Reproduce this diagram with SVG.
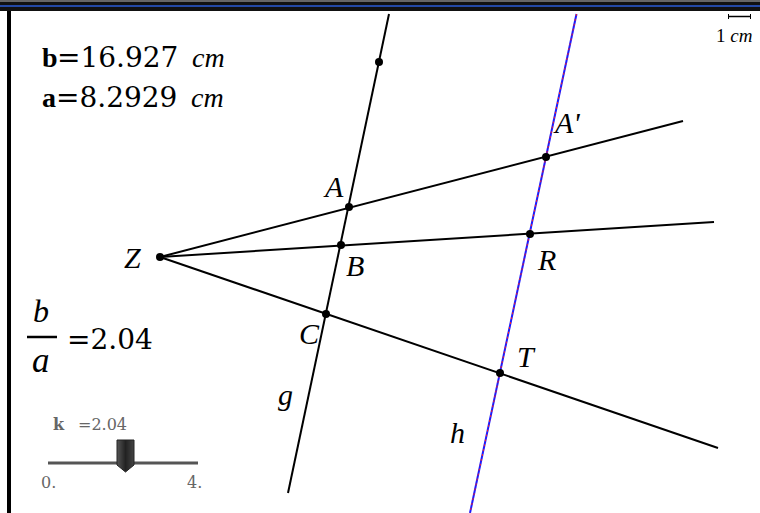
<svg xmlns="http://www.w3.org/2000/svg" width="760" height="513" viewBox="0 0 760 513">
<style>
.ln{stroke:#000;stroke-width:2;fill:none}
.pt{fill:#000}
.lbl{font-family:"Liberation Serif",serif;font-style:italic;font-size:30px;fill:#000}
.num{font-family:"DejaVu Serif",serif;fill:#000}
.gr{font-family:"DejaVu Serif",serif;fill:#666;font-size:16px}
</style>
<defs>
<linearGradient id="thumb" x1="0" y1="0" x2="1" y2="0">
<stop offset="0" stop-color="#555"/><stop offset="0.5" stop-color="#222"/><stop offset="1" stop-color="#444"/>
</linearGradient>
</defs>
<rect width="760" height="513" fill="#fff"/>
<g id="frame">
<rect x="0" y="0" width="760" height="11" fill="#111"/>
<rect x="0" y="0" width="760" height="2" fill="#666"/>
<line x1="0" y1="6" x2="760" y2="6" stroke="#2a5bd7" stroke-width="1.5"/>
<rect x="7" y="11" width="4" height="502" fill="#000"/>
</g>
<g id="connectors">
<line id="g-line" class="ln" x1="389" y1="14" x2="288" y2="493"/>
<line id="rayA" class="ln" x1="160" y1="257" x2="683" y2="121"/>
<line id="rayB" class="ln" x1="160" y1="257" x2="714" y2="222"/>
<line id="rayC" class="ln" x1="160" y1="257" x2="718" y2="448"/>
<line id="h-line" x1="576.5" y1="14" x2="470" y2="513" stroke="#1a1aff" stroke-width="2"/>
<line x1="576.5" y1="14" x2="470" y2="513" stroke="#ff2020" stroke-width="1" stroke-dasharray="2 3"/>
</g>
<g id="Z"><circle class="pt" cx="160" cy="257" r="4"/><text class="lbl" x="124" y="268">Z</text></g>
<g id="P"><circle class="pt" cx="379" cy="62" r="4"/></g>
<g id="A"><circle class="pt" cx="349" cy="207" r="4"/><text class="lbl" x="325" y="197">A</text></g>
<g id="B"><circle class="pt" cx="341" cy="245" r="4"/><text class="lbl" x="346" y="276">B</text></g>
<g id="C"><circle class="pt" cx="326" cy="314" r="4"/><text class="lbl" x="299" y="344">C</text></g>
<g id="A2"><circle class="pt" cx="546" cy="157" r="4"/><text class="lbl" x="555" y="133">A'</text></g>
<g id="R"><circle class="pt" cx="530" cy="234" r="4"/><text class="lbl" x="538" y="270">R</text></g>
<g id="T"><circle class="pt" cx="500" cy="373" r="4"/><text class="lbl" x="517" y="367">T</text></g>
<g id="glabel"><text class="lbl" x="278" y="405">g</text></g>
<g id="hlabel"><text class="lbl" x="450" y="443">h</text></g>
<g id="measures">
<text x="42" y="67" font-size="28"><tspan font-family="Liberation Serif,serif" font-weight="bold">b</tspan><tspan class="num" x="57">=16.927</tspan><tspan font-family="Liberation Serif,serif" font-style="italic" x="192">cm</tspan></text>
<text x="42" y="107" font-size="28"><tspan font-family="Liberation Serif,serif" font-weight="bold">a</tspan><tspan class="num" x="56">=8.2929</tspan><tspan font-family="Liberation Serif,serif" font-style="italic" x="191">cm</tspan></text>
</g>
<g id="ratio">
<text x="33" y="322" font-family="Liberation Serif,serif" font-style="italic" font-size="32">b</text>
<line x1="27" y1="337" x2="57" y2="337" stroke="#000" stroke-width="2.5"/>
<text x="32" y="372" font-family="Liberation Serif,serif" font-style="italic" font-size="35">a</text>
<text class="num" x="67" y="349" font-size="28">=2.04</text>
</g>
<g id="slider">
<text x="53" y="430" class="gr"><tspan font-weight="bold">k</tspan><tspan x="78">=2.04</tspan></text>
<line x1="48" y1="463" x2="198" y2="463" stroke="#555" stroke-width="3"/>
<path d="M117 440 H134 V465 L125.5 472 L117 465 Z" fill="url(#thumb)" stroke="#222" stroke-width="1"/>
<text x="41" y="488" class="gr">0.</text>
<text x="187" y="488" class="gr">4.</text>
</g>
<g id="scale">
<line x1="728" y1="16.5" x2="751" y2="16.5" stroke="#000" stroke-width="1.5"/>
<line x1="728.5" y1="14" x2="728.5" y2="19" stroke="#000" stroke-width="1"/>
<line x1="750.5" y1="14" x2="750.5" y2="19" stroke="#000" stroke-width="1"/>
<text x="716" y="42" font-family="Liberation Serif,serif" font-size="19">1 <tspan font-style="italic">cm</tspan></text>
</g>
</svg>
